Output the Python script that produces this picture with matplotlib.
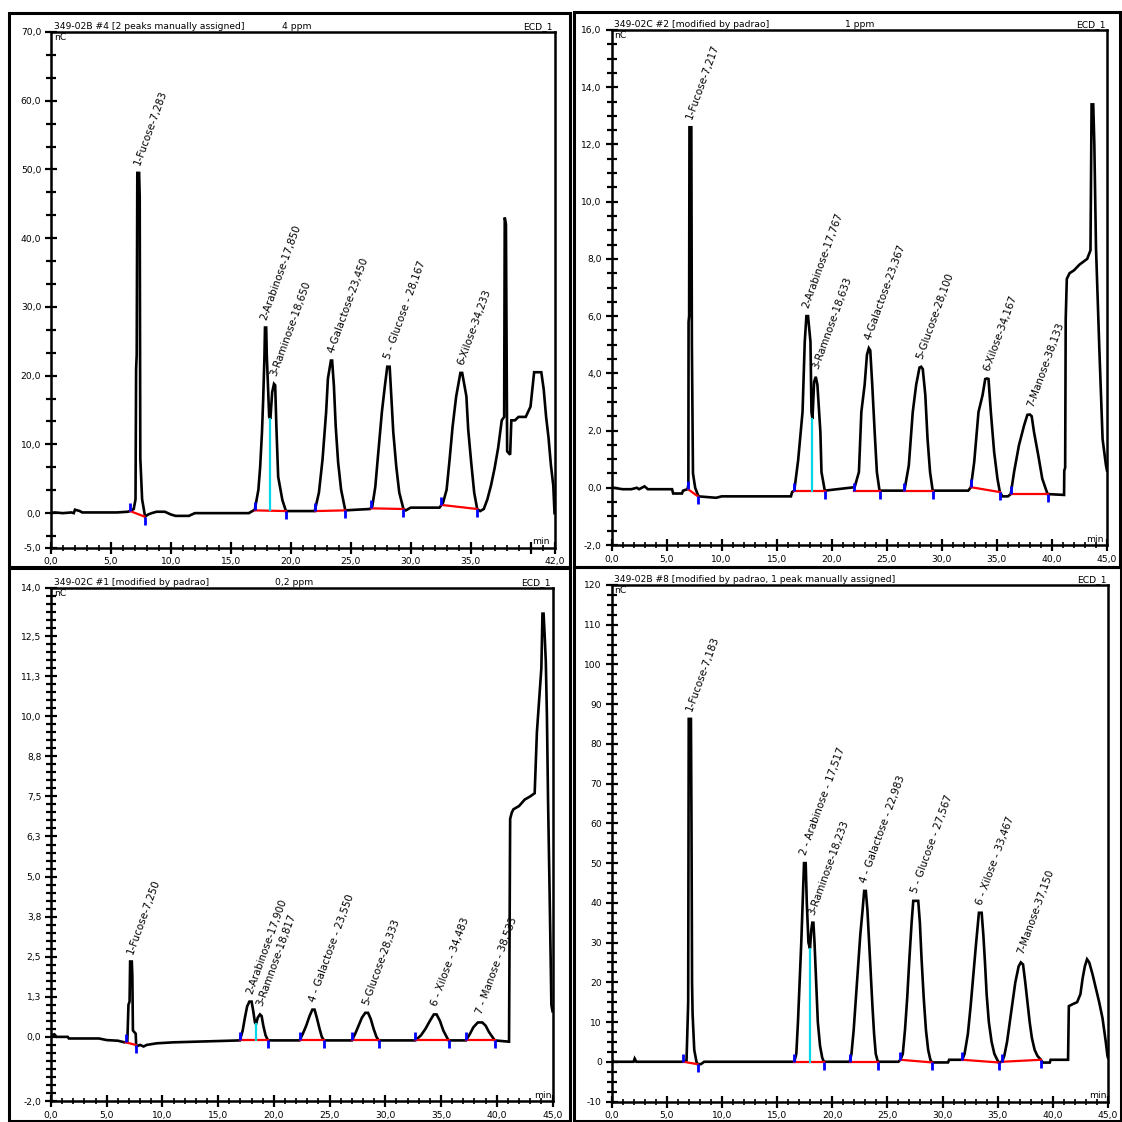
import matplotlib
matplotlib.use("Agg")
import matplotlib.pyplot as plt
from matplotlib.patches import Rectangle
from matplotlib.path import Path
from matplotlib.ticker import FixedLocator, FixedFormatter, MultipleLocator

plt.rcParams['font.family'] = ['DejaVu Sans']

# ---------------- Panel 1 (top-left) ----------------
TL_title = "349-02B #4 [2 peaks manually assigned]"
TL_ppm = "4 ppm"
TL_t = [0, 0.3, 1.0, 1.7, 1.9, 2.0, 2.4, 2.6, 4.0, 5.5, 6.4, 6.6, 6.9, 7.05, 7.1, 7.15, 7.2, 7.35, 7.4, 7.45,
        7.6, 7.75, 7.85, 8.1, 8.4, 8.8, 9.5, 10.0, 10.4, 11.5, 12.0, 16.5, 16.8, 17.0, 17.3, 17.45, 17.6, 17.7,
        17.8, 17.85, 17.95, 18.0, 18.1, 18.2, 18.3, 18.45, 18.6, 18.7, 18.8, 18.95, 19.3, 19.6, 20.5, 22.0,
        22.35, 22.65, 22.95, 23.1, 23.35, 23.45, 23.6, 23.75, 23.95, 24.2, 24.55, 25.5, 26.6, 26.8, 27.05,
        27.3, 27.6, 27.85, 28.05, 28.25, 28.4, 28.55, 28.8, 29.05, 29.4, 29.6, 30.0, 32.4, 32.7, 33.0, 33.25,
        33.5, 33.8, 34.15, 34.3, 34.65, 34.8, 35.05, 35.3, 35.55, 35.8, 36.1, 36.4, 36.7, 37.0, 37.3, 37.6,
        37.8, 37.85, 37.95, 38.05, 38.3, 38.4, 38.7, 39.0, 39.6, 40.0, 40.3, 40.9, 41.1, 41.3, 41.5, 41.7,
        41.9, 42.0]
TL_v = [0, 0.1, 0.0, 0.1, 0.0, 0.5, 0.3, 0.1, 0.1, 0.1, 0.2, 0.3, 0.6, 2.0, 21.0, 23.0, 49.5, 49.5, 46.0, 8.0,
        2.0, 0.5, -0.5, -0.2, 0.0, 0.2, 0.2, -0.2, -0.4, -0.4, 0.0, 0.0, 0.3, 0.5, 3.4, 6.8, 11.8, 16.6,
        22.5, 27.0, 27.0, 23.0, 18.5, 14.0, 13.7, 17.6, 18.8, 18.6, 12.6, 5.3, 1.9, 0.3, 0.3, 0.3,
        3.0, 7.8, 14.7, 19.6, 22.2, 22.2, 18.5, 12.6, 7.4, 3.4, 0.4, 0.5, 0.6, 1.0, 3.8,
        8.8, 14.7, 18.5, 21.3, 21.3, 16.6, 11.8, 6.8, 3.0, 0.6, 0.4, 0.8, 0.8, 1.5, 3.4, 7.8,
        12.6, 17.0, 20.4, 20.4, 17.0, 12.2, 7.4, 3.0, 0.6, 0.3, 0.6, 2.0, 4.0, 6.5, 9.5, 13.5,
        14.0, 43.0, 42.0, 9.0, 8.5, 13.5, 13.5, 14.0, 14.0, 15.5, 20.5, 20.5, 18.0, 14.0, 11.0, 7.0,
        4.0, 0.0]
TL_names = ["1-Fucose-7,283", "2-Arabinose-17,850", "3-Raminose-18,650", "4-Galactose-23,450",
            "5 - Glucose - 28,167", "6-Xilose-34,233"]
TL_rt = [7.283, 17.85, 18.65, 23.45, 28.167, 34.233]
TL_apex = [49.5, 27.0, 18.8, 22.2, 21.3, 20.4]
TL_base_t0 = [6.6, 17.0, 22.05, 26.7, 32.55]
TL_base_v0 = [0.3, 0.4, 0.3, 0.7, 1.2]
TL_base_t1 = [7.8, 19.6, 24.55, 29.4, 35.55]
TL_base_v1 = [-0.5, 0.3, 0.4, 0.6, 0.6]
TL_drop = [18.3, 0.4, 13.7]
TL_xticks = [0, 5, 10, 15, 20, 25, 30, 35, 40, 42]
TL_xticklabels = ["0,0", "5,0", "10,0", "15,0", "20,0", "25,0", "30,0", "35,0", "", "42,0"]
TL_yticks = [-5, 0, 10, 20, 30, 40, 50, 60, 70]
TL_yticklabels = ["-5,0", "0,0", "10,0", "20,0", "30,0", "40,0", "50,0", "60,0", "70,0"]

# ---------------- Panel 2 (top-right) ----------------
TR_title = "349-02C #2 [modified by padrao]"
TR_ppm = "1 ppm"
TR_t = [0, 0.2, 1.0, 1.8, 2.3, 2.5, 3.0, 3.3, 5.5, 5.6, 6.4, 6.5, 6.9, 6.98, 7.0, 7.05, 7.08, 7.25, 7.3, 7.4,
        7.6, 7.8, 7.9, 9.5, 10.0, 16.3, 16.4, 16.6, 16.95, 17.35, 17.55, 17.7, 17.85, 18.07, 18.16, 18.25,
        18.4, 18.55, 18.7, 18.97, 19.07, 19.37, 22.08, 22.47, 22.69, 22.99, 23.2, 23.37, 23.5, 23.68, 23.9,
        24.1, 24.34, 26.6, 27.0, 27.36, 27.67, 27.97, 28.12, 28.27, 28.5, 28.7, 28.93, 29.17, 32.4, 32.64,
        32.94, 33.33, 33.7, 33.94, 34.1, 34.24, 34.45, 34.75, 35.05, 35.27, 35.5, 36.0, 36.26, 36.56, 37.0,
        37.47, 37.77, 38.0, 38.16, 38.37, 38.76, 39.12, 39.6, 41.1, 41.12, 41.2, 41.25, 41.35, 41.6, 42.0,
        42.5, 43.2, 43.5, 43.6, 43.75, 43.85, 44.0, 44.3, 44.6, 44.9, 45.0]
TR_v = [0, 0, -0.05, -0.05, 0, -0.05, 0.05, -0.05, -0.05, -0.2, -0.2, -0.1, -0.05, 0.1, 5.8, 6.0, 12.6, 12.6,
        5.0, 0.5, 0.0, -0.2, -0.3, -0.35, -0.3, -0.3, -0.15, -0.1, 0.96, 2.65, 5.1, 6.0, 6.0, 5.1, 2.65, 2.4,
        3.7, 3.88, 3.6, 1.95, 0.55, -0.1, 0.02, 0.55, 2.65, 3.6, 4.65, 4.88, 4.8, 3.6, 1.95,
        0.55, -0.1, -0.1, 0.78, 2.65, 3.6, 4.2, 4.23, 4.15, 3.24, 1.72, 0.55, -0.1, -0.1, 0.02,
        0.9, 2.65, 3.24, 3.8, 3.82, 3.8, 2.65, 1.25, 0.32, -0.15, -0.3, -0.3, -0.22, 0.55, 1.48,
        2.18, 2.55, 2.56, 2.5, 1.95, 1.13, 0.32, -0.22, -0.25, 0.6, 0.7, 5.9, 7.3, 7.5, 7.6,
        7.8, 8.0, 8.3, 13.4, 13.4, 12.0, 8.4, 4.9, 1.7, 0.8, 0.6]
TR_names = ["1-Fucose-7,217", "2-Arabinose-17,767", "3-Ramnose-18,633", "4-Galactose-23,367",
            "5-Glucose-28,100", "6-Xilose-34,167", "7-Manose-38,133"]
TR_rt = [7.217, 17.767, 18.633, 23.367, 28.1, 34.167, 38.133]
TR_apex = [12.6, 6.0, 3.88, 4.88, 4.23, 3.82, 2.56]
TR_base_t0 = [6.95, 16.6, 22.05, 26.6, 32.65, 36.26]
TR_base_v0 = [-0.05, -0.1, -0.1, -0.1, 0.02, -0.22]
TR_base_t1 = [7.85, 19.4, 24.35, 29.2, 35.27, 39.6]
TR_base_v1 = [-0.3, -0.1, -0.1, -0.1, -0.15, -0.22]
TR_drop = [18.25, -0.1, 2.4]
TR_xticks = [0, 5, 10, 15, 20, 25, 30, 35, 40, 45]
TR_xticklabels = ["0,0", "5,0", "10,0", "15,0", "20,0", "25,0", "30,0", "35,0", "40,0", "45,0"]
TR_yticks = [-2, 0, 2, 4, 6, 8, 10, 12, 14, 16]
TR_yticklabels = ["-2,0", "0,0", "2,0", "4,0", "6,0", "8,0", "10,0", "12,0", "14,0", "16,0"]

# ---------------- Panel 3 (bottom-left) ----------------
BL_title = "349-02C #1 [modified by padrao]"
BL_ppm = "0,2 ppm"
BL_t = [0, 0.3, 0.5, 1.5, 1.6, 4.3, 5.0, 6.0, 6.6, 6.85, 6.95, 7.05, 7.1, 7.25, 7.3, 7.35, 7.6, 7.65, 8.0,
        8.3, 8.6, 9.5, 11.0, 13.0, 16.95, 17.2, 17.4, 17.6, 17.8, 18.0, 18.15, 18.3, 18.4, 18.55, 18.75,
        18.9, 19.05, 19.25, 19.47, 22.3, 22.6, 22.9, 23.2, 23.45, 23.65, 23.85, 24.1, 24.3, 24.5, 27.0,
        27.3, 27.6, 27.9, 28.2, 28.45, 28.7, 28.95, 29.2, 29.4, 32.7, 33.2, 33.6, 34.0, 34.35, 34.6,
        34.9, 35.2, 35.5, 35.67, 37.24, 37.6, 37.9, 38.3, 38.7, 39.0, 39.3, 39.6, 39.82, 41.1, 41.2,
        41.35, 41.5, 42.0, 42.5, 43.0, 43.4, 43.6, 43.8, 44.0, 44.1, 44.2, 44.3, 44.4, 44.5, 44.6,
        44.75, 44.9, 45.0]
BL_v = [0.05, 0.08, 0.0, 0.0, -0.05, -0.05, -0.1, -0.12, -0.17, -0.15, 1.0, 1.1, 2.35, 2.35, 1.9, 0.2, 0.1,
        -0.3, -0.25, -0.3, -0.25, -0.2, -0.17, -0.15, -0.11, 0.2, 0.6, 0.95, 1.1, 1.1, 0.8, 0.45, 0.4, 0.6,
        0.7, 0.65, 0.35, 0.05, -0.11, -0.11, 0.1, 0.35, 0.65, 0.85, 0.85, 0.6, 0.25, 0.0, -0.11, -0.11,
        0.1, 0.35, 0.6, 0.75, 0.75, 0.55, 0.25, 0.0, -0.11, -0.11, 0.05, 0.25, 0.5, 0.7, 0.7,
        0.5, 0.2, 0.0, -0.11, -0.11, 0.1, 0.3, 0.45, 0.45, 0.35, 0.15, 0.0, -0.11, -0.15, 6.8,
        7.0, 7.1, 7.2, 7.4, 7.5, 7.6, 9.5, 10.5, 11.5, 13.2, 13.2, 12.5, 11.7, 10.0, 7.4,
        4.3, 1.0, 0.8]
BL_names = ["1-Fucose-7,250", "2-Arabinose-17,900", "3-Ramnose-18,817", "4 - Galactose - 23,550",
            "5-Glucose-28,333", "6 - Xilose - 34,483", "7 - Manose - 38,533"]
BL_rt = [7.25, 17.9, 18.817, 23.55, 28.333, 34.483, 38.533]
BL_apex = [2.35, 1.1, 0.7, 0.85, 0.75, 0.7, 0.45]
BL_base_t0 = [6.7, 16.95, 22.3, 27.0, 32.7, 37.24]
BL_base_v0 = [-0.17, -0.11, -0.11, -0.11, -0.11, -0.11]
BL_base_t1 = [7.6, 19.47, 24.5, 29.4, 35.67, 39.82]
BL_base_v1 = [-0.25, -0.11, -0.11, -0.11, -0.11, -0.11]
BL_drop = [18.4, -0.11, 0.4]
BL_xticks = [0, 5, 10, 15, 20, 25, 30, 35, 40, 45]
BL_xticklabels = ["0,0", "5,0", "10,0", "15,0", "20,0", "25,0", "30,0", "35,0", "40,0", "45,0"]
BL_yticks = [-2, 0, 1.25, 2.5, 3.75, 5, 6.25, 7.5, 8.75, 10, 11.25, 12.5, 14]
BL_yticklabels = ["-2,0", "0,0", "1,3", "2,5", "3,8", "5,0", "6,3", "7,5", "8,8", "10,0", "11,3", "12,5", "14,0"]

# ---------------- Panel 4 (bottom-right) ----------------
BR_title = "349-02B #8 [modified by padrao, 1 peak manually assigned]"
BR_t = [0, 0.05, 0.2, 2.0, 2.1, 2.25, 6.52, 6.8, 6.9, 6.95, 7.0, 7.2, 7.25, 7.3, 7.35, 7.5, 7.7, 7.8, 8.1,
        8.4, 16.57, 16.75, 16.9, 17.05, 17.2, 17.35, 17.45, 17.6, 17.7, 17.85, 17.99, 18.1, 18.2, 18.3, 18.4,
        18.55, 18.7, 18.9, 19.1, 19.25, 21.59, 21.75, 21.95, 22.15, 22.35, 22.55, 22.75, 22.9, 23.05, 23.2,
        23.35, 23.5, 23.65, 23.8, 23.95, 24.14, 26.0, 26.19, 26.4, 26.6, 26.8, 27.0, 27.2, 27.35, 27.8,
        27.95, 28.1, 28.3, 28.5, 28.7, 28.9, 29.07, 30.5, 30.6, 31.79, 32.0, 32.3, 32.55, 32.8, 33.05,
        33.3, 33.55, 33.7, 33.85, 34.0, 34.2, 34.45, 34.7, 35.08, 35.4, 35.6, 35.85, 36.1, 36.35, 36.6,
        36.9, 37.1, 37.3, 37.5, 37.7, 37.9, 38.1, 38.35, 38.6, 38.92, 39.08, 39.72, 39.8, 41.38, 41.45,
        41.8, 42.2, 42.5, 42.7, 42.9, 43.1, 43.3, 43.6, 43.9, 44.2, 44.5, 44.8, 44.95, 45.0]
BR_v = [0, 0.5, 0, 0, 0.8, 0, 0, 0.3, 10, 15, 86.3, 86.3, 60, 20, 12, 3, 0, -0.6, -0.6,
        0, 0, 2, 10, 20, 30, 42, 50, 50, 40, 30, 28.5, 33, 35, 35, 30,
        20, 10, 4, 1, 0, 0, 2, 8, 16, 24, 32, 38, 43, 43, 38,
        30, 22, 14, 7, 2, 0, 0, 0.5, 2, 8, 16, 26, 35, 40.5, 40.5,
        35, 26, 16, 8, 3, 0.5, -0.17, -0.17, 0.5, 0.5, 2, 7, 14, 22, 30,
        37.5, 37.5, 32, 25, 17, 10, 5, 2, -0.17, 0, 1.5, 5, 10, 15, 20,
        24, 25, 24.5, 20, 15, 10, 6, 3, 1.5, 0.5, -0.2, -0.2, 0.5, 0.5, 14,
        14.5, 15, 17, 21, 24, 25.8, 25, 22, 18.5, 15, 11, 5, 1.5, 1]
BR_names = ["1-Fucose-7,183", "2 - Arabinose - 17,517", "3-Raminose-18,233", "4 - Galactose - 22,983",
            "5 - Glucose - 27,567", "6 - Xilose - 33,467", "7-Manose-37,150"]
BR_rt = [7.183, 17.517, 18.233, 22.983, 27.567, 33.467, 37.15]
BR_apex = [86.3, 50, 35, 43, 40.5, 37.5, 25]
BR_base_t0 = [6.52, 16.57, 21.59, 26.19, 31.79, 35.4]
BR_base_v0 = [0, 0, 0, 0.5, 0.5, 0]
BR_base_t1 = [7.8, 19.25, 24.14, 29.07, 35.08, 38.92]
BR_base_v1 = [-0.6, 0, 0, -0.17, -0.17, 0.5]
BR_drop = [17.99, 0, 28.5]
BR_xticks = [0, 5, 10, 15, 20, 25, 30, 35, 40, 45]
BR_xticklabels = ["0,0", "5,0", "10,0", "15,0", "20,0", "25,0", "30,0", "35,0", "40,0", "45,0"]
BR_yticks = [-10, 0, 10, 20, 30, 40, 50, 60, 70, 80, 90, 100, 110, 120]
BR_yticklabels = ["-10", "0", "10", "20", "30", "40", "50", "60", "70", "80", "90", "100", "110", "120"]

DETECTOR = "ECD_1"

# ---------------- drawing ----------------
W = 1122.0
fig = plt.figure(figsize=(11.22, 11.22), dpi=100)

UP = Path([(0, 0), (0, 1)])
DOWN = Path([(0, 0), (0, -1)])
FS = 6.6
LFS = 7.4


def make_axes(x0, x1, ytop, ybot):
    return fig.add_axes([x0 / W, 1 - ybot / W, (x1 - x0) / W, (ybot - ytop) / W])


def panel(ax, t, v, xlim, ylim, xticks, xtl, xminor, yticks, ytl, yminor,
          names, rts, apex, b_t0, b_v0, b_t1, b_v1, drop, title, ppm, ppm_x, min_x):
    ax.set_xlim(*xlim)
    ax.set_ylim(*ylim)
    for s in ax.spines.values():
        s.set_linewidth(1.8)
    ax.xaxis.set_major_locator(FixedLocator(xticks))
    ax.xaxis.set_major_formatter(FixedFormatter(xtl))
    ax.xaxis.set_minor_locator(MultipleLocator(xminor))
    ax.yaxis.set_major_locator(FixedLocator(yticks))
    ax.yaxis.set_major_formatter(FixedFormatter(ytl))
    ax.yaxis.set_minor_locator(MultipleLocator(yminor))
    ax.tick_params(axis='both', which='major', labelsize=FS, width=1.6, direction='inout', length=8, pad=3)
    ax.tick_params(axis='y', which='minor', width=1.6, direction='inout', length=7)
    ax.tick_params(axis='x', which='minor', width=1.2, direction='inout', length=4)

    ax.plot(t, v, color='black', lw=1.9, zorder=3, solid_joinstyle='miter')
    for a0, c0, a1, c1 in zip(b_t0, b_v0, b_t1, b_v1):
        ax.plot([a0, a1], [c0, c1], color='red', lw=1.6, zorder=4)
        ax.plot([a0], [c0], marker=UP, markersize=12, mew=2, color='blue', zorder=5, linestyle='none')
        ax.plot([a1], [c1], marker=DOWN, markersize=12, mew=2, color='blue', zorder=5, linestyle='none')
    ax.plot([drop[0], drop[0]], [drop[1], drop[2]], color='#00d8e8', lw=1.6, zorder=4)

    for name, rt, ap in zip(names, rts, apex):
        ax.annotate(name, xy=(rt, ap), xytext=(-1, 6), textcoords='offset points',
                    rotation=70, rotation_mode='anchor', ha='left', va='center',
                    fontsize=LFS, zorder=2, annotation_clip=False)

    ax.annotate(title, xy=(0, 1), xycoords='axes fraction', xytext=(2, 0.5),
                textcoords='offset points', ha='left', va='bottom', fontsize=FS)
    if ppm:
        ax.annotate(ppm, xy=(ppm_x, 1), xycoords=('data', 'axes fraction'), xytext=(0, 0.5),
                    textcoords='offset points', ha='left', va='bottom', fontsize=FS)
    ax.annotate(DETECTOR, xy=(1, 1), xycoords='axes fraction', xytext=(-1, 0.5),
                textcoords='offset points', ha='right', va='bottom', fontsize=FS)
    ax.annotate("nC", xy=(0, 1), xycoords='axes fraction', xytext=(2, -1),
                textcoords='offset points', ha='left', va='top', fontsize=FS)
    ax.annotate("min", xy=(min_x, 0), xycoords=('data', 'axes fraction'), xytext=(0, 1),
                textcoords='offset points', ha='right', va='bottom', fontsize=FS)


ax1 = make_axes(51, 554.5, 32, 547.5)
panel(ax1, TL_t, TL_v, (0, 42), (-5, 70), TL_xticks, TL_xticklabels, 1, TL_yticks, TL_yticklabels, 10 / 3,
      TL_names, TL_rt, TL_apex, TL_base_t0, TL_base_v0, TL_base_t1, TL_base_v1, TL_drop,
      TL_title, TL_ppm, 19.3, 41.6)

ax2 = make_axes(611.5, 1107, 30, 545)
panel(ax2, TR_t, TR_v, (0, 45), (-2, 16), TR_xticks, TR_xticklabels, 1, TR_yticks, TR_yticklabels, 0.5,
      TR_names, TR_rt, TR_apex, TR_base_t0, TR_base_v0, TR_base_t1, TR_base_v1, TR_drop,
      TR_title, TR_ppm, 21.2, 44.7)

ax3 = make_axes(51, 552.5, 588, 1101)
panel(ax3, BL_t, BL_v, (0, 45), (-2, 14), BL_xticks, BL_xticklabels, 1, BL_yticks, BL_yticklabels, 0.25,
      BL_names, BL_rt, BL_apex, BL_base_t0, BL_base_v0, BL_base_t1, BL_base_v1, BL_drop,
      BL_title, BL_ppm, 20.1, 44.9)

ax4 = make_axes(611.5, 1108, 585, 1101.5)
panel(ax4, BR_t, BR_v, (0, 45), (-10, 120), BR_xticks, BR_xticklabels, 1, BR_yticks, BR_yticklabels, 2.5,
      BR_names, BR_rt, BR_apex, BR_base_t0, BR_base_v0, BR_base_t1, BR_base_v1, BR_drop,
      BR_title, None, 0, 44.9)

# outer frames
for (x0, y0, x1, y1) in [(9, 13, 570, 567), (573.5, 12, 1120, 567), (9, 568, 570, 1121), (574, 567, 1121, 1121)]:
    fig.add_artist(Rectangle((x0 / W, 1 - y1 / W), (x1 - x0) / W, (y1 - y0) / W, transform=fig.transFigure,
                             fill=False, lw=2.2, edgecolor='black'))

fig.savefig("out.png", dpi=100)
